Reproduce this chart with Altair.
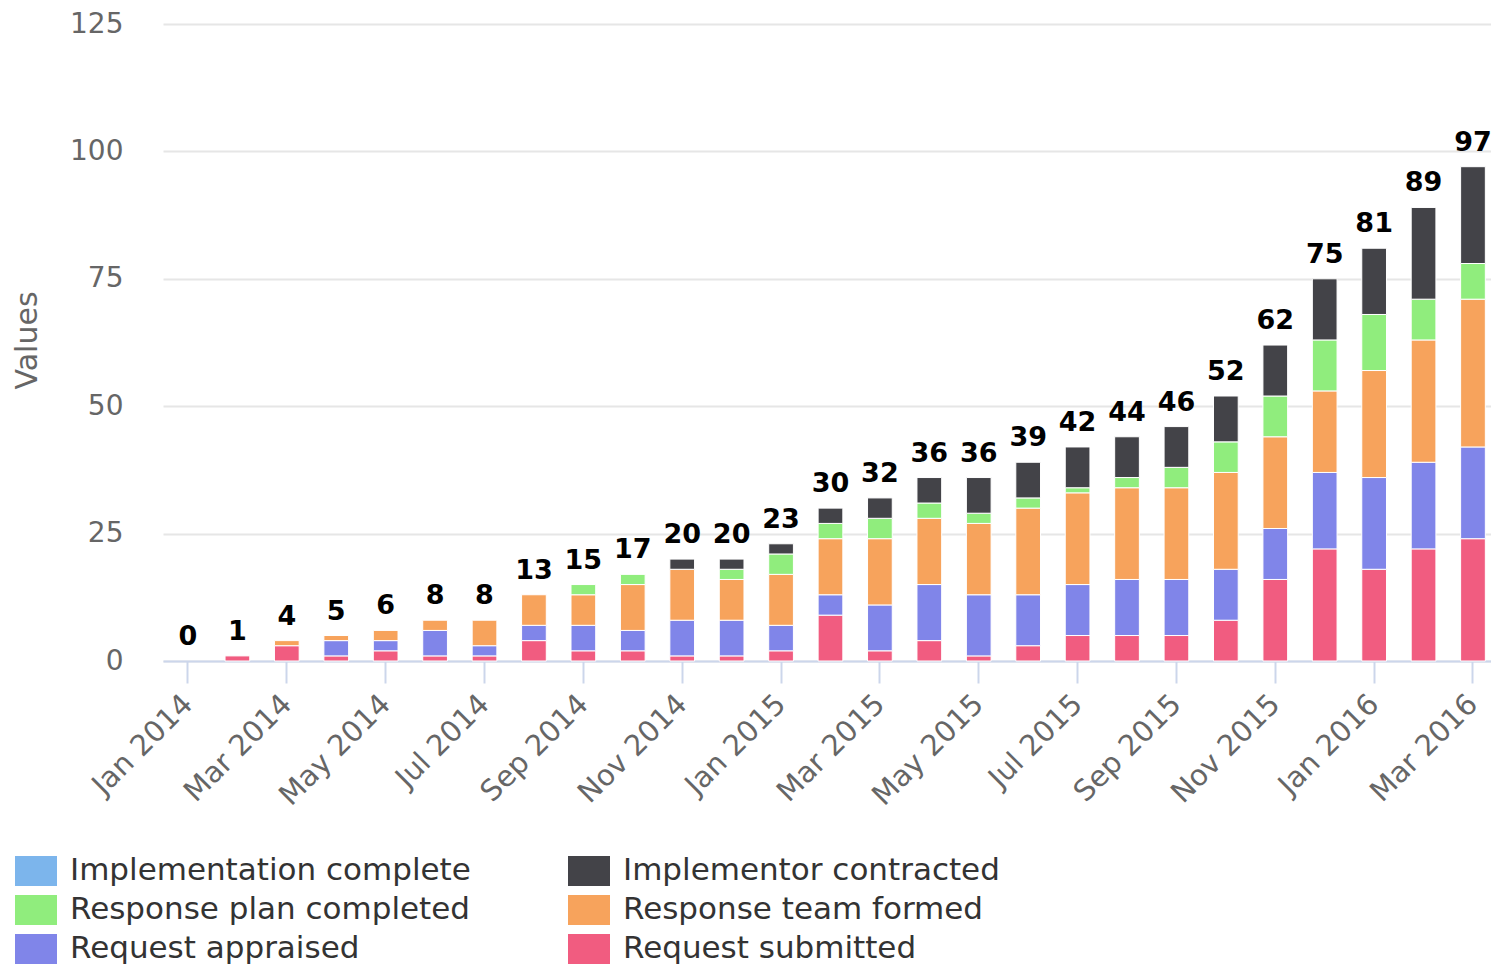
import altair as alt
import pandas as pd

months = ["Jan 2014", "Feb 2014", "Mar 2014", "Apr 2014", "May 2014", "Jun 2014",
          "Jul 2014", "Aug 2014", "Sep 2014", "Oct 2014", "Nov 2014", "Dec 2014",
          "Jan 2015", "Feb 2015", "Mar 2015", "Apr 2015", "May 2015", "Jun 2015",
          "Jul 2015", "Aug 2015", "Sep 2015", "Oct 2015", "Nov 2015", "Dec 2015",
          "Jan 2016", "Feb 2016", "Mar 2016"]

request_submitted = [0, 1, 3, 1, 2, 1, 1, 4, 2, 2, 1, 1, 2, 9, 2, 4, 1, 3, 5, 5, 5, 8, 16, 22, 18, 22, 24]
request_appraised = [0, 0, 0, 3, 2, 5, 2, 3, 5, 4, 7, 7, 5, 4, 9, 11, 12, 10, 10, 11, 11, 10, 10, 15, 18, 17, 18]
response_team_formed = [0, 0, 1, 1, 2, 2, 5, 6, 6, 9, 10, 8, 10, 11, 13, 13, 14, 17, 18, 18, 18, 19, 18, 16, 21, 24, 29]
response_plan_completed = [0, 0, 0, 0, 0, 0, 0, 0, 2, 2, 0, 2, 4, 3, 4, 3, 2, 2, 1, 2, 4, 6, 8, 10, 11, 8, 7]
implementor_contracted = [0, 0, 0, 0, 0, 0, 0, 0, 0, 0, 2, 2, 2, 3, 4, 5, 7, 7, 8, 8, 8, 9, 10, 12, 13, 18, 19]
implementation_complete = [0] * 27

series_names = ["Request submitted", "Request appraised", "Response team formed",
                "Response plan completed", "Implementor contracted", "Implementation complete"]
series_values = [request_submitted, request_appraised, response_team_formed,
                 response_plan_completed, implementor_contracted, implementation_complete]

# legend is filled column by column: left column first, then right column
legend_order = ["Implementation complete", "Response plan completed", "Request appraised",
                "Implementor contracted", "Response team formed", "Request submitted"]
legend_colors = ["#7cb5ec", "#90ed7d", "#8085e9", "#434348", "#f7a35c", "#f15c80"]

y_ticks = [0, 25, 50, 75, 100, 125]

rows = []
for idx, (name, vals) in enumerate(zip(series_names, series_values)):
    for m, v in zip(months, vals):
        rows.append({"month": m, "series": name, "value": v, "idx": idx})
df = pd.DataFrame(rows)

FONT = "DejaVu Sans"

x_scale = alt.Scale(paddingInner=0.5, paddingOuter=0.185, align=0.69)

x_enc = alt.X(
    "month:N", sort=months, scale=x_scale,
    axis=alt.Axis(values=months[::2], title=None, labelAngle=-45, bandPosition=0.5,
                  domainColor="#ccd6eb", domainWidth=2, tickColor="#ccd6eb", tickWidth=2,
                  tickSize=22, labelPadding=16, labelAlign="right", labelBaseline="middle",
                  labelColor="#666666", labelFontSize=29, labelFont=FONT, grid=False),
)

bars = alt.Chart(df).transform_filter("datum.value > 0").mark_bar(
    stroke="white", strokeWidth=1
).encode(
    x=x_enc,
    y=alt.Y("sum(value):Q", stack="zero",
            scale=alt.Scale(domain=[0, 125], nice=False),
            axis=alt.Axis(values=y_ticks, title="Values", domain=False, ticks=False,
                          gridColor="#e6e6e6", gridWidth=2, labelPadding=40,
                          labelColor="#666666", labelFontSize=28, labelFont=FONT,
                          titleColor="#666666", titleFontSize=30, titleFont=FONT,
                          titleFontWeight="normal", titleX=-136, titleY=316,
                          titleAlign="center", titleBaseline="middle", titleAngle=-90)),
    color=alt.Color("series:N",
                    scale=alt.Scale(domain=legend_order, range=legend_colors),
                    legend=alt.Legend(orient="none", legendX=-148, legendY=826, columns=2,
                                      title=None, padding=0,
                                      symbolType="M-1,-0.714L1,-0.714L1,0.714L-1,0.714Z",
                                      symbolSize=1764, symbolStrokeWidth=0, symbolOpacity=1,
                                      labelFontSize=31, labelFont=FONT, labelColor="#333333",
                                      labelOffset=13, labelLimit=800, columnPadding=97,
                                      rowPadding=3)),
    order=alt.Order("idx:Q", sort="ascending"),
)

labels = alt.Chart(df).transform_aggregate(
    total="sum(value)", groupby=["month"]
).mark_text(
    dy=-16, baseline="alphabetic", fontSize=27, fontWeight="bold", color="#000000", font=FONT
).encode(
    x=alt.X("month:N", sort=months, scale=x_scale),
    y=alt.Y("total:Q"),
    text=alt.Text("total:Q"),
)

chart = alt.layer(bars, labels).properties(
    width=1328, height=637,
    autosize=alt.AutoSizeParams(type="none"),
    padding={"left": 155, "top": 16, "right": 0, "bottom": 306},
).configure(font=FONT).configure_view(strokeWidth=0)

chart.save("out.html", embed_options={"renderer": "svg", "actions": False})
